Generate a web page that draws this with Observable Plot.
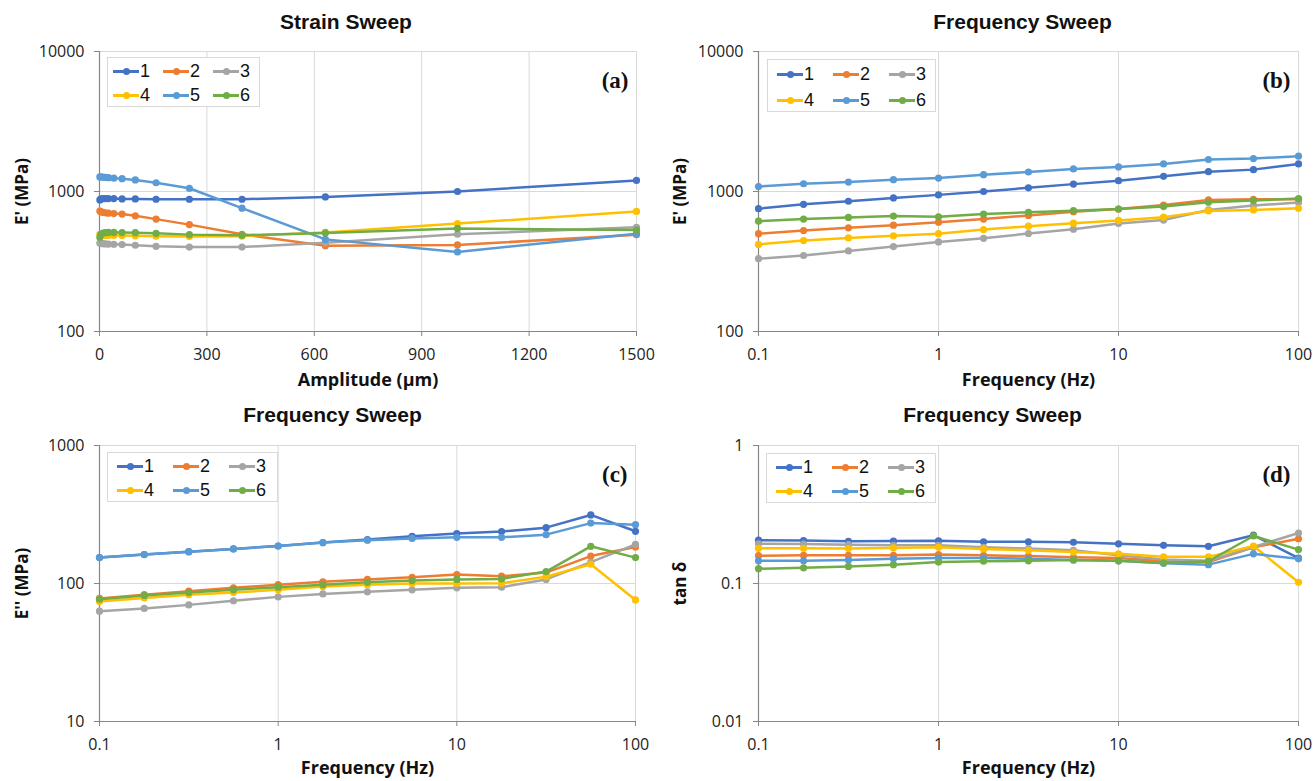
<!DOCTYPE html>
<html><head><meta charset="utf-8">
<script src="https://cdn.jsdelivr.net/npm/d3@7"></script>
<script src="https://cdn.jsdelivr.net/npm/@observablehq/plot@0.6"></script>
<style>
body{margin:0;background:#fff;}
#root{position:relative;width:1314px;height:781px;overflow:hidden;background:#fff;}
.panel{position:absolute;}
.legend{position:absolute;border:1px solid #d9d9d9;background:#fff;display:grid;font-family:"Liberation Sans",Arial,sans-serif;color:#111;box-sizing:border-box;}
.item{display:flex;align-items:center;}
.sw{position:relative;display:inline-block;width:26px;height:10px;margin-right:1px;}
.sw::before{content:"";position:absolute;left:0;right:0;top:4px;height:2.5px;background:var(--c);}
.sw::after{content:"";position:absolute;left:9.5px;top:1.7px;width:7px;height:7px;border-radius:50%;background:var(--c);}
</style></head><body><div id="root"></div>
<script>
const seriesNames = ["1","2","3","4","5","6"];
const seriesColors = ["#4472C4","#ED7D31","#A5A5A5","#FFC000","#5B9BD5","#70AD47"];

// x values
const amplitude = [1,4,10,16,25,40,63,100,158,251,398,631,1000,1500];
const frequency = [0.1,0.178,0.316,0.562,1,1.78,3.16,5.62,10,17.8,31.6,56.2,100];

// (a) Strain sweep, E' (MPa), one row per series 1..6
const strainStorage = [
  [870,885,890,890,890,890,885,885,880,880,880,915,1000,1200],
  [725,715,710,705,700,695,690,670,635,580,495,410,415,490],
  [428,425,424,422,421,420,418,413,406,401,401,430,495,555],
  [495,490,488,486,485,485,484,482,480,478,480,510,590,720],
  [1270,1270,1265,1260,1255,1245,1235,1210,1155,1055,760,455,370,500],
  [470,495,505,508,510,510,509,508,503,492,487,506,545,530]
];
// (b) Frequency sweep, E' (MPa)
const freqStorage = [
  [754,810,852,900,946,1000,1063,1129,1194,1283,1386,1433,1574],
  [500,526,550,575,604,635,675,718,750,801,871,880,880],
  [331,349,376,404,436,463,501,538,591,625,738,793,833],
  [419,446,466,482,500,535,565,594,621,656,726,738,758],
  [1086,1136,1168,1214,1248,1319,1378,1449,1498,1574,1692,1720,1788],
  [614,635,653,668,660,690,710,729,750,780,838,861,890]
];
// (c) Frequency sweep, E'' (MPa)
const freqLoss = [
  [154,162,170,178,187,198,208,220,230,238,254,314,239],
  [78,83,88,93,98,103,107,111,116,113,120,158,184],
  [63,66,70,75,80,84,87,90,93,94,107,143,192],
  [74,78.5,83,86,90,95,98,100,100,100.5,112,138,76],
  [154,162,170,178,187,198,206,212,216,216,226,274,267],
  [77,82,86,90,94,98,102,105,107,108,122,186,154]
];
// (d) Frequency sweep, tan delta
const freqTanDelta = [
  [0.206,0.205,0.202,0.203,0.204,0.2005,0.2005,0.199,0.194,0.189,0.186,0.224,0.153],
  [0.159,0.160,0.160,0.160,0.162,0.160,0.158,0.155,0.153,0.145,0.143,0.183,0.211],
  [0.194,0.193,0.191,0.189,0.189,0.183,0.179,0.174,0.160,0.149,0.146,0.184,0.232],
  [0.180,0.180,0.179,0.181,0.183,0.178,0.174,0.169,0.164,0.156,0.156,0.187,0.102],
  [0.146,0.146,0.148,0.151,0.153,0.153,0.151,0.148,0.146,0.140,0.137,0.164,0.151],
  [0.128,0.130,0.133,0.137,0.143,0.145,0.146,0.148,0.146,0.141,0.145,0.221,0.176]
];

// tick labels
const amplitudeTicks = [0,300,600,900,1200,1500];
const frequencyTicks = [0.1,1,10,100];
const storageTicks = [100,1000,10000];
const lossTicks = [10,100,1000];
const tanTicks = [0.01,0.1,1];

const root = document.getElementById("root");

function panel(cfg) {
  const rows = cfg.values.flatMap((arr, i) => arr.map((v, j) => ({x: cfg.xs[j], y: v, s: seriesNames[i]})));
  const seriesMarks = seriesNames.flatMap(s => [
    Plot.line(rows, {filter: d => d.s === s, x: "x", y: "y", stroke: "s", strokeWidth: 2.5}),
    Plot.dot(rows, {filter: d => d.s === s, x: "x", y: "y", fill: "s", r: 3.6})
  ]);
  const chart = Plot.plot({
    width: cfg.width, height: cfg.height,
    marginLeft: cfg.ml, marginRight: cfg.mr, marginTop: cfg.mt, marginBottom: cfg.mb,
    style: {fontFamily: "'Open Sans', sans-serif", fontSize: "16px", color: "#222", background: "transparent", overflow: "visible"},
    x: {type: cfg.xType, domain: [cfg.xTicks[0], cfg.xTicks[cfg.xTicks.length - 1]]},
    y: {type: "log", domain: [cfg.yTicks[0], cfg.yTicks[cfg.yTicks.length - 1]]},
    color: {domain: seriesNames, range: seriesColors},
    marks: [
      Plot.gridX(cfg.xTicks, {stroke: "#d9d9d9", strokeOpacity: 1, strokeWidth: 1}),
      Plot.gridY(cfg.yTicks, {stroke: "#d9d9d9", strokeOpacity: 1, strokeWidth: 1}),
      Plot.ruleX([cfg.xTicks[0]], {stroke: "#868686", strokeWidth: 1.2}),
      Plot.ruleY([cfg.yTicks[0]], {stroke: "#868686", strokeWidth: 1.2}),
      Plot.axisX(cfg.xTicks, {tickSize: 5, tickPadding: 12, stroke: "#868686", fill: "#222", tickFormat: d => String(d), label: null}),
      Plot.axisY(cfg.yTicks, {tickSize: 5, tickPadding: 10, stroke: "#868686", fill: "#222", tickFormat: d => String(d), label: null}),
      ...seriesMarks,
      Plot.text([cfg.title], {text: d => d, frameAnchor: "top", dx: cfg.titleDx, dy: cfg.titleDy, lineAnchor: "middle", fontFamily: "'Liberation Sans', Arial, sans-serif", fontWeight: "bold", fontSize: 21, fill: "#111"}),
      Plot.text([cfg.xLabel], {text: d => d, frameAnchor: "bottom", dy: cfg.xLabelDy, lineAnchor: "middle", fontFamily: "'Open Sans', sans-serif", fontWeight: "bold", fontSize: 18, fill: "#111"}),
      Plot.text([cfg.yLabel], {text: d => d, frameAnchor: "left", dx: cfg.yLabelDx, rotate: -90, textAnchor: "middle", lineAnchor: "middle", fontFamily: "'Open Sans', sans-serif", fontWeight: "bold", fontSize: 17, fill: "#111"}),
      Plot.text([cfg.letter], {text: d => d, frameAnchor: "top-right", dx: -8, dy: 29, textAnchor: "end", lineAnchor: "middle", fontFamily: "'Liberation Serif', 'Times New Roman', serif", fontWeight: "bold", fontSize: 23, fill: "#111"})
    ]
  });
  const wrap = document.createElement("div");
  wrap.className = "panel";
  wrap.style.left = cfg.left + "px";
  wrap.style.top = cfg.top + "px";
  wrap.appendChild(chart);
  root.appendChild(wrap);

  const lg = document.createElement("div");
  lg.className = "legend";
  const L = cfg.legend;
  lg.style.left = L.left + "px"; lg.style.top = L.top + "px";
  lg.style.width = L.width + "px"; lg.style.height = L.height + "px";
  lg.style.gridTemplateColumns = `repeat(3, ${L.col}px)`;
  lg.style.gridAutoRows = L.row + "px";
  lg.style.padding = `${L.padTop}px 0 0 ${L.padLeft}px`;
  lg.style.fontSize = L.font + "px";
  seriesNames.forEach((s, i) => {
    const it = document.createElement("div");
    it.className = "item";
    const sw = document.createElement("span");
    sw.className = "sw";
    sw.style.setProperty("--c", seriesColors[i]);
    const t = document.createElement("span");
    t.textContent = s;
    it.appendChild(sw); it.appendChild(t);
    lg.appendChild(it);
  });
  root.appendChild(lg);
}

panel({left: 0, top: 0, width: 657, height: 390, ml: 99, mr: 21, mt: 51, mb: 59,
  xs: amplitude, values: strainStorage, xType: "linear", xTicks: amplitudeTicks, yTicks: storageTicks,
  title: "Strain Sweep", titleDx: -22, titleDy: -29, xLabel: "Amplitude (µm)", xLabelDy: 49, yLabel: "E' (MPa)", yLabelDx: -77, letter: "(a)",
  legend: {left: 107, top: 57, width: 153, height: 50, col: 50, row: 24, padTop: 1, padLeft: 5, font: 18}});

panel({left: 657, top: 0, width: 657, height: 390, ml: 101, mr: 16, mt: 51, mb: 59,
  xs: frequency, values: freqStorage, xType: "log", xTicks: frequencyTicks, yTicks: storageTicks,
  title: "Frequency Sweep", titleDx: -6, titleDy: -29, xLabel: "Frequency (Hz)", xLabelDy: 49, yLabel: "E' (MPa)", yLabelDx: -78, letter: "(b)",
  legend: {left: 767, top: 59, width: 169, height: 53, col: 56, row: 26, padTop: 1, padLeft: 9, font: 18}});

panel({left: 0, top: 390, width: 657, height: 391, ml: 99, mr: 22, mt: 55, mb: 60,
  xs: frequency, values: freqLoss, xType: "log", xTicks: frequencyTicks, yTicks: lossTicks,
  title: "Frequency Sweep", titleDx: -35, titleDy: -30, xLabel: "Frequency (Hz)", xLabelDy: 47, yLabel: "E'' (MPa)", yLabelDx: -77, letter: "(c)",
  legend: {left: 107, top: 452, width: 171, height: 50, col: 56, row: 24, padTop: 1, padLeft: 9, font: 18}});

panel({left: 657, top: 390, width: 657, height: 391, ml: 101, mr: 16, mt: 55, mb: 60,
  xs: frequency, values: freqTanDelta, xType: "log", xTicks: frequencyTicks, yTicks: tanTicks,
  title: "Frequency Sweep", titleDx: -36, titleDy: -30, xLabel: "Frequency (Hz)", xLabelDy: 47, yLabel: "tan δ", yLabelDx: -78, letter: "(d)",
  legend: {left: 766, top: 453, width: 170, height: 50, col: 56, row: 24, padTop: 1, padLeft: 9, font: 18}});
</script></body></html>
